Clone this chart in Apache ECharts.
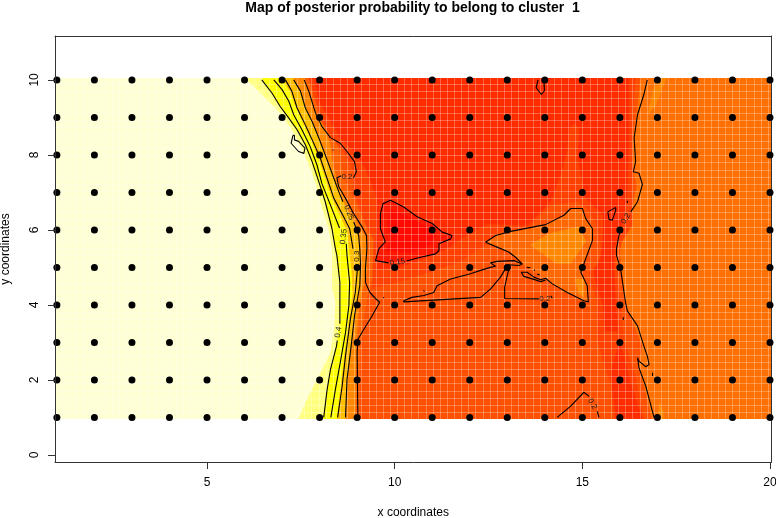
<!DOCTYPE html>
<html><head><meta charset="utf-8">
<style>html,body{margin:0;padding:0;background:#fff}#c{width:776px;height:518px}</style>
<script src="https://cdn.jsdelivr.net/npm/echarts@6/dist/echarts.min.js"></script>
</head><body><div id="c"></div>
<script>
const titleText = 'Map of posterior probability to belong to cluster  1';
const xTicks = [5, 10, 15, 20];
const yTicks = [0, 2, 4, 6, 8, 10];
const pointXs = [1,2,3,4,5,6,7,8,9,10,11,12,13,14,15,16,17,18,19,20];
const pointYs = [1,2,3,4,5,6,7,8,9,10];

// posterior level colours, low to high
const heat = ['#FF0A00','#FF1800','#FF2C00','#FF4000','#FF5000','#FF6000','#FF6800','#FF7000','#FF8800','#FFBF00','#FFFF00','#FFFF80','#FFFFD5'];

// contour lines
const c40 = [[6.46,10],[6.51,9.96],[6.73,9.65],[6.95,9.29],[7.18,8.98],[7.40,8.67],[7.62,8.27],[7.80,7.82],[7.98,7.28],[8.15,6.75],[8.33,6.03],[8.42,5.5],[8.46,5.32],[8.54,4.60],[8.54,3.50],'-',[8.47,3.05],[8.45,2.90],[8.29,2.28],[8.20,1.74],[8.11,1]];
const c35 = [[6.78,10],[7.00,9.74],[7.18,9.43],[7.31,9.07],[7.53,8.67],[7.75,8.22],[7.93,7.73],[8.06,7.24],[8.29,6.66],[8.53,6.05],'-',[8.71,5.63],[8.73,5.32],[8.80,4.60],[8.78,3.98],[8.69,3.26],[8.55,2.46],[8.42,1.74],[8.30,1]];
const c30 = [[7.09,10],[7.26,9.70],[7.40,9.25],[7.62,8.80],[7.82,8.36],[8.02,7.91],[8.20,7.37],[8.38,6.84],[8.64,6.35],[8.80,6.03],[8.89,5.50],'-',[9.0,5.05],[9.0,4.87],[8.95,4.33],[8.82,3.62],[8.69,2.64],[8.60,1.83],[8.48,1]];
const c25 = [[7.31,10],[7.49,9.70],[7.62,9.25],[7.80,8.89],[7.98,8.45],[8.15,8.0],[8.33,7.51],[8.51,7.02],[8.62,6.75],'-',[8.91,6.21],[9.04,5.85],[9.07,5.50],[9.09,5.05],[9.07,4.51],[8.93,3.71],[8.84,2.90],[8.73,2.01],[8.69,1]];
const c20a = [[7.59,10],[7.71,9.70],[7.89,9.12],[8.06,8.76],[8.29,8.46],[8.55,8.31],[8.73,8.09],[8.93,7.82],[8.98,7.55],[8.90,7.38],'-',[8.57,7.44],[8.46,7.39],[8.51,7.15],[8.69,6.84],[8.91,6.43],[9.13,6.08],[9.25,5.85],[9.26,5.50],[9.22,4.96],[9.22,4.60],[9.34,4.33],[9.49,4.17],[9.60,4.07],[9.40,3.71],[9.18,3.35],[9.02,3.08],[9.0,2.73],[9.02,1]];
const c20right = [[16.73,10],[16.64,9.61],[16.47,9.07],[16.38,8.45],[16.42,7.82],[16.36,7.55],[16.51,7.51],[16.60,7.21],[16.47,6.75],[16.29,6.48],'-',[16.02,6.08],[15.91,5.5],[15.91,5.32],[16.02,4.96],[16.15,4.07],[16.2,3.84],[16.47,3.44],[16.64,2.90],[16.73,2.64],[16.78,2.41],[16.69,2.35],[16.51,2.5],[16.47,2.59],[16.51,2.32],[16.69,1.83],[16.91,1]];
const c20blob = [[12.42,5.67],[12.69,5.85],[13.09,5.96],[14.02,6.14],[14.51,6.39],[14.69,6.57],[15.0,6.57],[15.09,6.30],[15.27,6.03],[15.27,5.72],[15.09,5.23],[14.96,4.87],[15.13,4.51],[15.16,4.08],[15.04,4.11],[14.6,4.33],[14.2,4.56],[14.02,4.71],[13.89,4.67],[13.71,4.74],[13.53,4.87],[13.37,4.87],[13.44,4.76],[13.71,4.68],[13.89,4.62],[14.02,4.66],'-',[12.42,5.67],[12.73,5.54],[13.04,5.41],[13.22,5.27],[13.40,5.09]];
const c20wedge = [[10.24,4.11],[10.46,4.20],[10.78,4.25],[11.04,4.33],[11.13,4.51],[11.49,4.69],[12.02,4.83],[12.29,4.92],[12.55,5.0],[12.69,5.03],[12.55,5.12],[12.73,5.16],[13.18,5.18],[13.40,5.09],[13.31,5.05],[13.04,5.07],[12.95,4.96],[12.82,4.74],[12.55,4.42],[12.29,4.20],[10.24,4.08],[10.24,4.11]];
const c20low = [[13.84,4.16],[12.93,4.17],[12.93,4.47],[13.02,4.87],[13.09,5.03]];
const c20hook = [[14.2,4.18],[14.16,4.24]];
const c20bottom = [[14.33,1],[14.69,1.3],[15.04,1.67],[15.18,1.56],'-',[15.4,1.16],[15.44,1]];
const c15 = [[9.84,5.12],[9.49,5.18],[9.58,5.50],[9.75,5.68],[9.62,6.03],[9.62,6.43],[9.69,6.70],[9.89,6.79],[10.24,6.61],[10.60,6.35],[11.0,6.17],[11.27,5.94],[11.53,5.85],[11.49,5.76],[11.18,5.63],[11.18,5.45],[11.09,5.36],[10.69,5.27],[10.32,5.17]];
const c15top = [[13.82,10],[13.77,9.79],[13.91,9.61],[13.99,9.71],[13.98,9.92],[14.0,10]];
const islandLeft = [[7.29,8.52],[7.24,8.31],[7.44,8.09],[7.58,8.04],[7.61,8.18],[7.44,8.36],[7.33,8.40],[7.33,8.52],[7.29,8.52]];
const islandRight = [[15.68,6.48],[15.89,6.60],[15.89,6.52],[15.8,6.26],[15.71,6.28],[15.68,6.48]];
const specks = [[[8.35,8.14],[8.37,8.12]],[[9.69,4.20],[9.72,4.18]],[[10.76,4.38],[10.80,4.36]],[[16.2,6.78],[16.2,6.72]],[[16.09,3.67],[16.09,3.60]],[[16.87,2.19],[16.87,2.10]],[[13.52,5.0],[13.62,4.99],[13.52,5.0]],[[13.71,4.93],[13.74,4.92]],[[13.80,4.82],[13.86,4.80]]];
const contourLines = [c40,c35,c30,c25,c20a,c20right,c20blob,c20wedge,c20low,c20hook,c20bottom,c15,c15top,islandLeft,islandRight].concat(specks);

// contour labels
const labelTexts = ['0.4','0.35','0.3','0.25','0.2','0.15','0.2','0.2','0.2'];
const labelXs = [8.50,8.64,8.98,8.78,8.73,10.07,14.0,16.16,15.27];
const labelYs = [3.27,5.82,5.30,6.46,7.42,5.14,4.16,6.30,1.36];
const labelAngles = [82,84,90,-68,0,8,0,58,-60];

// colour zones, painted in this order
const paleEdge = [[6.02,10.05],[6.15,9.92],[6.38,9.70],[6.95,9.12],[7.26,8.67],[7.53,8.18],[7.75,7.64],[7.91,7.2],[8.04,6.66],[8.24,6.03],[8.33,5.5],[8.33,4.87],[8.33,4.42],[8.42,4.07],[8.39,3.44],[8.29,2.73],[8.02,2.19],[7.84,1.83],[7.62,1.39],[7.44,0.96]];
const yellowEdge = [[6.46,10.05],[6.73,9.65],[6.95,9.29],[7.18,8.98],[7.40,8.67],[7.62,8.27],[7.80,7.82],[7.98,7.28],[8.15,6.75],[8.33,6.03],[8.42,5.5],[8.46,5.32],[8.54,4.60],[8.54,3.53],[8.45,2.90],[8.29,2.28],[8.20,1.74],[8.09,0.96]];
const goldEdge = [[7.0,10.05],[7.2,9.7],[7.36,9.3],[7.55,8.85],[7.78,8.38],[7.97,7.9],[8.14,7.4],[8.32,6.85],[8.58,6.3],[8.72,6.0],[8.78,5.5],[8.85,4.9],[8.88,4.3],[8.78,3.6],[8.66,2.7],[8.56,1.85],[8.46,0.96]];
const amberEdge = [[7.31,10.05],[7.49,9.70],[7.62,9.25],[7.80,8.89],[7.98,8.45],[8.15,8.0],[8.33,7.51],[8.51,7.02],[8.75,6.5],[8.91,6.21],[9.04,5.85],[9.07,5.5],[9.09,5.05],[9.07,4.51],[8.93,3.71],[8.84,2.90],[8.73,2.01],[8.69,0.96]];
const orangeEdge = [[7.59,10.05],[7.75,9.6],[7.89,9.16],[8.15,8.67],[8.29,8.27],[8.33,7.91],[8.46,7.33],[8.69,6.84],[9.0,6.21],[9.26,5.76],[9.26,5.5],[9.26,4.87],[9.13,4.33],[9.04,3.8],[8.98,3.08],[8.95,0.96]];
const baseEdge = [[7.8,10.05],[7.95,9.6],[8.1,9.16],[8.35,8.67],[8.5,8.27],[8.55,7.91],[8.68,7.33],[8.9,6.84],[9.2,6.21],[9.45,5.76],[9.45,5.5],[9.45,4.87],[9.3,4.33],[9.2,3.8],[9.1,3.08],[9.05,0.96]];
const rightZone = [[16.55,10.05],[20.04,10.05],[20.04,0.96],[16.85,0.96],[16.65,1.8],[16.5,2.4],[16.6,2.9],[16.4,3.4],[16.15,4.0],[16.05,4.9],[16.0,5.4],[16.15,6.1],[16.35,6.7],[16.45,7.2],[16.35,7.6],[16.35,8.5],[16.45,9.1]];
const redOrangeZone = [[7.71,10.05],[16.42,10.05],[16.33,9.07],[16.33,6.12],[15.93,5.5],[15.89,5.14],[16.02,3.98],[16.11,3.08],[16.42,2.10],[16.64,0.96],[15.84,0.96],[15.75,1.92],[15.58,2.37],[15.4,3.08],[15.4,4.07],[15.22,4.6],[15.18,4.87],[15.44,5.14],[15.49,5.5],[15.35,6.21],[15.13,6.57],[14.87,6.75],[14.16,6.66],[13.53,6.03],[12.91,6.03],[12.42,5.6],[11.75,5.15],[10.15,4.61],[9.4,4.45],[9.44,5.76],[9.31,5.94],[9.13,6.39],[8.91,7.02],[8.91,7.55],[8.69,8.0],[8.33,8.45],[8.06,8.89],[7.89,9.43]];
const redZone = [[7.84,10.05],[16.25,10.05],[16.25,8.5],[16.2,7],[16.05,6],[15.85,5.5],[15.85,4.9],[15.9,4],[15.95,3.3],[15.6,3.3],[15.55,4],[15.35,4.6],[15.3,4.9],[15.5,5.3],[15.55,5.8],[15.55,6.4],[15.09,6.84],[14.87,7.91],[14.91,8.71],[14.78,8.85],[14.64,8.67],[14.6,8.09],[14.42,7.46],[14.16,6.75],[13.53,6.12],[12.47,6.15],[11.9,5.85],[11.35,5.47],[10.15,5.0],[9.53,4.95],[9.5,6],[9.53,6.84],[9.22,7.64],[8.91,8.09],[8.55,8.45],[8.29,8.89],[7.98,9.43]];
const lowStripe = [[15.75,2.19],[16.0,3.08],[16.29,1.92],[16.6,0.96],[15.89,0.96]];
const deepRed = [[9.75,5.45],[9.9,5.75],[9.8,6.2],[9.9,6.55],[10.3,6.4],[10.9,6.05],[11.1,5.85],[10.9,5.55],[10.4,5.4]];
const blobZone = [[12.42,5.67],[12.69,5.85],[13.09,5.96],[14.02,6.14],[14.51,6.39],[14.69,6.57],[15.0,6.57],[15.09,6.30],[15.27,6.03],[15.27,5.72],[15.09,5.23],[14.96,4.87],[15.13,4.51],[15.16,4.08],[15.04,4.11],[14.6,4.33],[14.2,4.56],[13.40,5.09],[13.22,5.27],[13.04,5.41],[12.73,5.54]];
const blobCore = [[13.6,5.6],[14.1,5.9],[14.9,6.1],[15.1,5.7],[14.7,5.1],[14.3,5.1],[13.9,5.4]];
const blobTail = [[14.8,4.7],[15.05,4.7],[15.05,4.2],[14.9,4.3]];
const rightGlow = [[17.0,10.05],[16.85,9.6],[16.75,9.1],[16.95,9.3],[17.1,9.7],[17.25,10.05]];
const lowGlow = [[17.0,0.96],[17.05,1.4],[17.15,1.2],[17.2,0.96]];
const bandRect = [[0.95,10.05],[20.04,10.05],[20.04,0.96],[0.95,0.96]];

function toRight(edge){ return edge.concat([[20.04,0.96],[20.04,10.05]]); }
const zones = [
  {p:bandRect, c:12},
  {p:toRight(paleEdge), c:11},
  {p:toRight(yellowEdge), c:10},
  {p:toRight(goldEdge), c:9},
  {p:toRight(amberEdge), c:8},
  {p:toRight(orangeEdge), c:5},
  {p:toRight(baseEdge), c:4},
  {p:rightZone, c:7},
  {p:redOrangeZone, c:3},
  {p:redZone, c:2},
  {p:lowStripe, c:2},
  {p:c15, c:1},
  {p:deepRed, c:0},
  {p:blobZone, c:6},
  {p:blobCore, c:8},
  {p:blobTail, c:8},
  {p:rightGlow, c:8},
  {p:lowGlow, c:8}
];

const points = [];
pointYs.forEach(y => pointXs.forEach(x => points.push([x, y])));

const FONT = '"Liberation Sans", Arial, sans-serif';
const X_MIN = 0.95, X_MAX = 20.04, Y_MIN = -0.19, Y_MAX = 11.17, SEAM = 0.19;
const seamLine = {show:true, lineStyle:{color:'rgba(255,255,255,0.28)', width:1}};
const boxLine = {show:true, onZero:false, lineStyle:{color:'#333', width:1}};

const chart = echarts.init(document.getElementById('c'), null, {renderer:'canvas'});
chart.setOption({
  animation:false,
  backgroundColor:'#fff',
  title:{text:titleText, left:407.5, top:-4, textAlign:'center',
    textStyle:{fontFamily:FONT, fontSize:14, fontWeight:'bold', color:'#000'}},
  grid:{left:55, top:36, width:716.5, height:426, containLabel:false, outerBoundsMode:'none'},
  xAxis:[
    {type:'value', position:'bottom', min:X_MIN, max:X_MAX, z:6, axisLine:boxLine,
     axisTick:{show:true, length:7, lineStyle:{color:'#333'}, customValues:xTicks},
     axisLabel:{show:true, margin:15, fontFamily:FONT, fontSize:12, color:'#000', customValues:xTicks, hideOverlap:false},
     splitLine:{show:false},
     name:'x coordinates', nameLocation:'middle', nameGap:45,
     nameTextStyle:{fontFamily:FONT, fontSize:12, color:'#000'}},
    {type:'value', position:'top', min:X_MIN, max:X_MAX, interval:SEAM, z:3, axisLine:boxLine,
     axisTick:{show:false}, axisLabel:{show:false}, splitLine:seamLine}
  ],
  yAxis:[
    {type:'value', position:'left', min:Y_MIN, max:Y_MAX, z:6, axisLine:boxLine,
     axisTick:{show:true, length:7, lineStyle:{color:'#333'}, customValues:yTicks},
     axisLabel:{show:true, rotate:90, margin:14, fontFamily:FONT, fontSize:12, color:'#000', customValues:yTicks},
     splitLine:{show:false},
     name:'y coordinates', nameLocation:'middle', nameGap:43,
     nameTextStyle:{fontFamily:FONT, fontSize:12, color:'#000'}},
    {type:'value', position:'right', min:Y_MIN, max:Y_MAX, interval:SEAM, z:3, axisLine:boxLine,
     axisTick:{show:false}, axisLabel:{show:false}, splitLine:seamLine}
  ],
  series:[
    {type:'custom', z:1, silent:true, clip:false, coordinateSystem:'cartesian2d',
     data:zones.map((z,i)=>[i,0]),
     encode:{x:0,y:1},
     renderItem:(params,api)=>{
       const z = zones[params.dataIndex];
       return {type:'polygon', shape:{points:z.p.map(q=>api.coord(q))}, style:{fill:heat[z.c]}};
     }}
  ].concat(contourLines.map(line=>({
     type:'line', z:4, silent:true, showSymbol:false, symbol:'none', smooth:false, clip:false,
     connectNulls:false, lineStyle:{color:'#000', width:1.1}, data:line.map(q=>q==='-'?['-','-']:q)
  }))).concat([
    {type:'custom', z:4, silent:true, clip:false, coordinateSystem:'cartesian2d',
     data:labelXs.map((x,i)=>[x,labelYs[i]]), encode:{x:0,y:1},
     renderItem:(params,api)=>{
       const i = params.dataIndex, c = api.coord([api.value(0),api.value(1)]);
       return {type:'text', x:c[0], y:c[1], rotation:labelAngles[i]*Math.PI/180,
         style:{text:labelTexts[i], fontFamily:FONT, fontSize:8, fill:'#222', align:'center', verticalAlign:'middle'}};
     }},
    {type:'scatter', z:5, silent:true, clip:false, symbol:'circle', symbolSize:7,
     itemStyle:{color:'#000', opacity:1}, data:points}
  ])
});
</script></body></html>
